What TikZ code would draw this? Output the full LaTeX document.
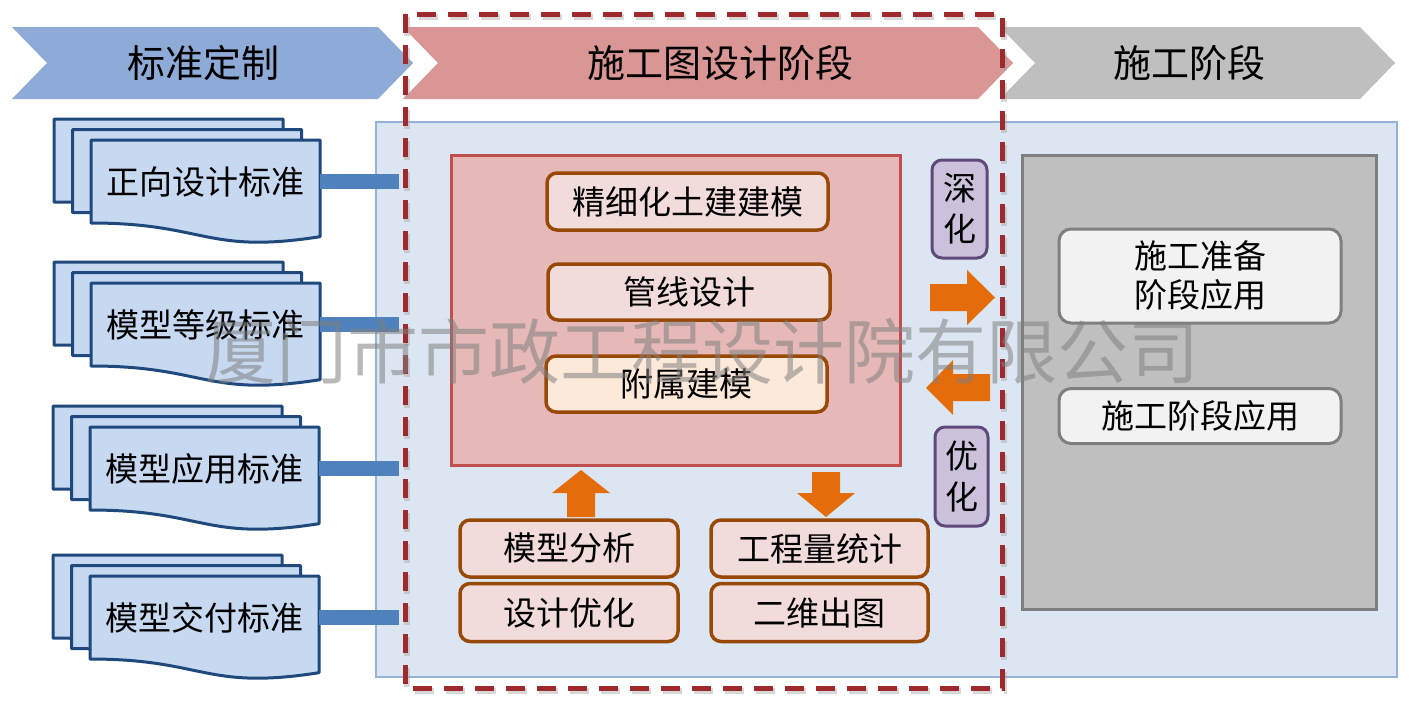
\documentclass[tikz,border=0pt]{standalone}
\usepackage{fontspec}
\setmainfont{Noto Sans CJK SC}
\usetikzlibrary{positioning}
\definecolor{chevblue}{HTML}{8EAAD6}
\definecolor{chevred}{HTML}{D99694}
\definecolor{chevgray}{HTML}{BFBFBF}
\definecolor{panelfill}{HTML}{DCE6F2}
\definecolor{paneldraw}{HTML}{95B3D7}
\definecolor{pagefill}{HTML}{C6D9F1}
\definecolor{pagedraw}{HTML}{1F497D}
\definecolor{barblue}{HTML}{4F81BD}
\definecolor{frmred}{HTML}{9E2A2D}
\definecolor{dsnfill}{HTML}{E6B9B8}
\definecolor{dsndraw}{HTML}{C0504D}
\definecolor{taskdraw}{HTML}{984807}
\definecolor{taskfill}{HTML}{F2DCDB}
\definecolor{taskpeach}{HTML}{FDE9D9}
\definecolor{arrorange}{HTML}{E46C0A}
\definecolor{purpfill}{HTML}{CCC1DA}
\definecolor{purpdraw}{HTML}{5F497A}
\definecolor{stagefill}{HTML}{BFBFBF}
\definecolor{stagedraw}{HTML}{7F7F7F}
\definecolor{appfill}{HTML}{F2F2F2}
\tikzset{
  hdr/.style={font=\fontsize{38}{46}\selectfont,inner sep=0pt},
  stdpage/.style={fill=pagefill,draw=pagedraw,line width=3pt,line join=round},
  stdtext/.style={font=\fontsize{33}{40}\selectfont,inner sep=0pt,minimum width=229pt,minimum height=83pt,anchor=north west},
  stdbar/.style={draw=barblue,line width=15pt},
  taskbox/.style={draw=taskdraw,fill=taskfill,line width=3.5pt,rounded corners=10pt,inner sep=0pt,font=\fontsize{33}{40}\selectfont},
  loopbox/.style={draw=purpdraw,fill=purpfill,line width=3pt,rounded corners=10pt,inner sep=0pt,align=center,font=\fontsize{33}{41}\selectfont},
  appbox/.style={draw=stagedraw,fill=appfill,line width=3pt,rounded corners=12pt,inner sep=0pt,minimum width=282pt,align=center,font=\fontsize{33}{39}\selectfont},
  blockarrow/.style={fill=arrorange,draw=none},
  frm/.style={draw=frmred,line width=5pt,dash pattern=on 19pt off 12pt},
  frmshade/.style={draw=gray!70,line width=6pt,dash pattern=on 19pt off 12pt,opacity=.45},
  wmark/.style={font=\fontsize{71}{80}\selectfont,text=gray,text opacity=.55,inner sep=0pt}
}
% one page of a standard stack, #1,#2 = top left corner
\newcommand\stdpage[2]{%
  \begin{scope}[shift={(#1,#2)}]
    \filldraw[stdpage] (0,0) -- (229,0) -- (229,96.7) .. controls (114.5,114.6) and (114.5,83) .. (0,83) -- cycle;
  \end{scope}}
\newcommand\stdstack[2]{%
  \stdpage{#1-37}{#2-21}\stdpage{#1-18.5}{#2-10.5}\stdpage{#1}{#2}}
\begin{document}
\begin{tikzpicture}[x=1pt,y=-1pt]
\useasboundingbox (0,0) rectangle (1420,712);
% panel
\filldraw[fill=panelfill,draw=paneldraw,line width=2.5pt] (376,122) rectangle (1397,677);
\coordinate (frmW) at (399,0);
% standards
\stdstack{91}{140}
\node[stdtext] (std1) at (91,140) {正向设计标准};
\stdstack{91}{283}
\node[stdtext] (std2) at (91,283) {模型等级标准};
\stdstack{90}{427}
\node[stdtext] (std3) at (90,427) {模型应用标准};
\stdstack{90}{576}
\node[stdtext] (std4) at (90,576) {模型交付标准};
\draw[stdbar] (std1.east) -- (std1.east -| frmW);
\draw[stdbar] (std2.east) -- (std2.east -| frmW);
\draw[stdbar] (std3.east) -- (std3.east -| frmW);
\draw[stdbar] (std4.east) -- (std4.east -| frmW);
% design stage
\filldraw[fill=dsnfill,draw=dsndraw,line width=3pt] (451,155) rectangle (900,465);
\node[taskbox,minimum width=281pt,minimum height=57pt] (fine) at (687.5,201.5) {精细化土建建模};
\node[taskbox,minimum width=282pt,minimum height=56pt] (pipe) at (689,292) {管线设计};
\node[taskbox,fill=taskpeach,minimum width=281pt,minimum height=56pt] (attach) at (686.5,384) {附属建模};
\node[taskbox,minimum width=218pt,minimum height=57pt] (ana) at (569,548.5) {模型分析};
\node[taskbox,minimum width=218pt,minimum height=58pt] (opt) at (569,612.5) {设计优化};
\node[taskbox,minimum width=217pt,minimum height=57pt] (qty) at (819.5,548.5) {工程量统计};
\node[taskbox,minimum width=217pt,minimum height=58pt] (draw2d) at (819.5,612.5) {二维出图};
\fill[blockarrow] (567,517) -- (567,493) -- (552,493) -- (581,470) -- (610,493) -- (595,493) -- (595,517) -- cycle;
\fill[blockarrow] (812,472) -- (840,472) -- (840,493) -- (855,493) -- (826,517) -- (797,493) -- (812,493) -- cycle;
\node[loopbox,minimum width=55pt,minimum height=98pt] (deep) at (959.5,209) {深\\化};
\node[loopbox,minimum width=53pt,minimum height=99pt] (better) at (961.5,476.5) {优\\化};
\fill[blockarrow] (930,284) -- (967,284) -- (967,270) -- (995,297.5) -- (967,325) -- (967,311) -- (930,311) -- cycle;
\fill[blockarrow] (990,374) -- (953,374) -- (953,360) -- (926,388) -- (953,415) -- (953,401) -- (990,401) -- cycle;
% construction stage
\filldraw[fill=stagefill,draw=stagedraw,line width=3pt] (1022,155) rectangle (1376,609);
\node[appbox,minimum height=94pt] (prep) at (1200,276) {施工准备\\阶段应用};
\node[appbox,minimum height=55pt] (build) at (1200,416) {施工阶段应用};
% phase chevrons
\fill[chevblue] (12,27) -- (378,27) -- (413,63) -- (378,99) -- (12,99) -- (47,63) -- cycle;
\node[hdr] (ph1) at (203,63) {标准定制};
\fill[chevred] (403,27) -- (978,27) -- (1013,63) -- (978,99) -- (403,99) -- (438,63) -- cycle;
\node[hdr] (ph2) at (720,63) {施工图设计阶段};
\fill[chevgray] (1000,27) -- (1360,27) -- (1395,63) -- (1360,99) -- (1000,99) -- (1035,63) -- cycle;
\node[hdr] (ph3) at (1189,63) {施工阶段};
% dashed frame
\draw[frmshade] (407,17) rectangle (1004,691);
\draw[frm] (405,14) rectangle (1002,688);
% watermark
\node[wmark] (wm) at (702,351) {厦门市市政工程设计院有限公司};
\end{tikzpicture}
\end{document}
